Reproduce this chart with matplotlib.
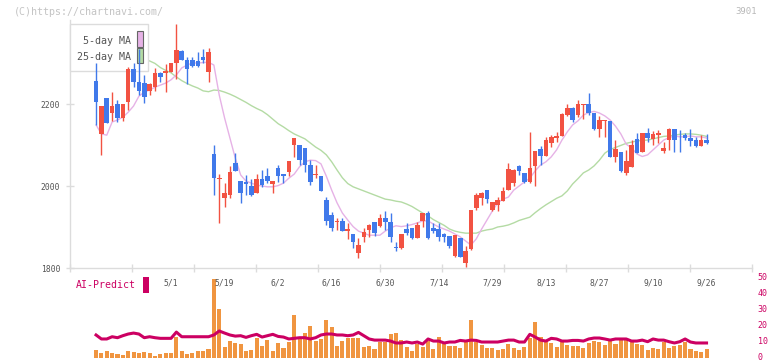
import numpy as np
import matplotlib
matplotlib.use("Agg")
import matplotlib.pyplot as plt
from matplotlib.patches import Rectangle
from matplotlib.transforms import blended_transform_factory, ScaledTranslation

nan = np.nan

# ---------------- data ----------------
opens = [2055, 2256, 2127, 2214, 2179, 2200, 2167, 2206, 2285, 2254,
         2252, 2232, 2241, 2276, 2275, 2279, 2299, 2330, 2307, 2307,
         2305, 2314, 2279, 2078, 2017, 1971, 1978, 2057, 2012, 2010,
         2000, 1984, 2016, 2024, 2006, 2043, 2029, 2035, 2100, 2100,
         2092, 2051, 2027, 2024, 1966, 1929, 1913, 1915, 1891, 1883,
         1836, 1875, 1893, 1912, 1902, 1921, 1912, 1851, 1848, 1894,
         1897, 1874, 1915, 1933, 1897, 1894, 1883, 1878, 1829, 1872,
         1813, 1846, 1947, 1971, 1990, 1941, 1954, 1963, 1990, 2008,
         2049, 2031, 2010, 2049, 2090, 2074, 2104, 2118, 2123, 2173,
         2190, 2173, 2198, 2200, 2177, 2139, 2158, 2159, 2071, 2084,
         2032, 2047, 2114, 2084, 2129, 2115, 2124, 2085, 2112, 2139,
         2113, 2124, 2116, 2112, 2098, 2112]
highs = [2055, 2299, 2195, 2214, 2230, 2210, 2200, 2291, 2299, 2333,
         2271, 2251, 2287, 2279, 2298, 2300, 2395, 2332, 2315, 2315,
         2328, 2333, 2336, 2100, 2029, 2008, 2049, 2081, 2012, 2027,
         2016, 2029, 2039, 2043, 2012, 2051, 2029, 2061, 2116, 2100,
         2092, 2063, 2051, 2024, 1974, 1937, 1921, 1921, 1910, 1883,
         1872, 1897, 1907, 1912, 1931, 1939, 1933, 1864, 1883, 1910,
         1897, 1913, 1933, 1939, 1910, 1909, 1886, 1878, 1880, 1872,
         1854, 1941, 1984, 1986, 1990, 1961, 1972, 1997, 2057, 2041,
         2051, 2031, 2132, 2085, 2098, 2120, 2124, 2132, 2179, 2200,
         2193, 2210, 2200, 2226, 2178, 2171, 2161, 2159, 2112, 2084,
         2088, 2112, 2129, 2129, 2142, 2135, 2137, 2108, 2141, 2139,
         2137, 2130, 2138, 2120, 2124, 2126]
lows = [2055, 2149, 2076, 2154, 2159, 2157, 2159, 2185, 2242, 2222,
        2203, 2222, 2232, 2254, 2230, 2279, 2262, 2307, 2250, 2290,
        2290, 2299, 2254, 1978, 1910, 1950, 1971, 2037, 1959, 1978,
        1976, 1984, 1998, 2007, 1984, 2010, 2008, 2024, 2071, 2051,
        2035, 2002, 2019, 1989, 1905, 1891, 1893, 1891, 1870, 1850,
        1824, 1864, 1876, 1878, 1901, 1893, 1864, 1842, 1847, 1880,
        1870, 1874, 1899, 1870, 1885, 1866, 1864, 1848, 1828, 1826,
        1802, 1845, 1941, 1954, 1958, 1939, 1940, 1963, 1990, 2000,
        2027, 2008, 2008, 2000, 2051, 2074, 2094, 2108, 2123, 2171,
        2157, 2169, 2163, 2173, 2137, 2120, 2120, 2071, 2059, 2035,
        2027, 2047, 2081, 2084, 2108, 2100, 2106, 2081, 2088, 2084,
        2084, 2112, 2098, 2096, 2098, 2102]
closes = [2055, 2206, 2195, 2154, 2195, 2167, 2200, 2285, 2254, 2232,
          2216, 2249, 2276, 2265, 2281, 2299, 2332, 2307, 2285, 2293,
          2293, 2307, 2326, 2020, 2020, 1982, 2035, 2037, 1982, 2004,
          1978, 2016, 2002, 2012, 2012, 2024, 2024, 2061, 2116, 2063,
          2051, 2010, 2029, 1989, 1915, 1898, 1915, 1891, 1894, 1864,
          1856, 1887, 1905, 1886, 1921, 1912, 1876, 1849, 1883, 1886,
          1872, 1905, 1933, 1872, 1891, 1875, 1876, 1854, 1880, 1826,
          1842, 1941, 1978, 1984, 1969, 1960, 1966, 1988, 2041, 2039,
          2037, 2010, 2043, 2085, 2074, 2112, 2120, 2122, 2176, 2190,
          2161, 2200, 2200, 2177, 2139, 2161, 2160, 2071, 2090, 2037,
          2061, 2100, 2081, 2129, 2118, 2126, 2130, 2092, 2139, 2112,
          2111, 2116, 2110, 2098, 2112, 2106]

ma5 = [nan,
       2149, 2127, 2124, 2156, 2161, 2168, 2180, 2195, 2219, 2229,
       2234, 2241, 2246, 2251, 2259, 2271, 2288, 2295, 2300, 2300,
       2301, 2302, 2295, 2222, 2166, 2117, 2068, 2027, 2012, 2007,
       2002, 2000, 1998, 1998, 2001, 2007, 2019, 2029, 2047, 2059,
       2063, 2062, 2054, 2024, 1990, 1959, 1934, 1917, 1901, 1890,
       1885, 1880, 1880, 1880, 1890, 1898, 1903, 1901, 1903, 1906,
       1910, 1915, 1915, 1907, 1900, 1895, 1890, 1883, 1876, 1866,
       1856, 1871, 1895, 1917, 1939, 1959, 1968, 1973, 1990, 2000,
       2010, 2019, 2037, 2051, 2059, 2071, 2088, 2112, 2132, 2149,
       2159, 2173, 2179, 2182, 2178, 2171, 2161, 2146, 2127, 2102,
       2093, 2078, 2072, 2076, 2088, 2100, 2112, 2118, 2122, 2120,
       2120, 2122, 2120, 2120, 2117]
ma25 = [nan] * 11 + [
       2305, 2299, 2289, 2282, 2276, 2266, 2257, 2250, 2244, 2239,
       2232, 2230, 2234, 2233, 2229, 2224, 2218, 2211, 2204, 2196,
       2189, 2183, 2174, 2163, 2152, 2144, 2135, 2127, 2121, 2115,
       2105, 2095, 2087, 2076, 2059, 2039, 2020, 2006, 1998, 1993,
       1988, 1983, 1978, 1973, 1968, 1966, 1963, 1961, 1956, 1950,
       1942, 1934, 1927, 1918, 1911, 1904, 1895, 1890, 1887, 1885,
       1885, 1885, 1890, 1893, 1895, 1900, 1902, 1905, 1910, 1916,
       1920, 1924, 1935, 1945, 1954, 1962, 1970, 1976, 1988, 2005,
       2018, 2032, 2039, 2049, 2063, 2080, 2089, 2094, 2099, 2104,
       2107, 2110, 2111, 2112, 2115, 2118, 2121, 2122, 2124, 2126,
       2127, 2127, 2126, 2124, 2121]

volume = [nan,
          4.8, 2.9, 4.2, 2.9, 2.3, 1.7, 4.2, 3.5, 2.9, 3.5,
          2.9, 1.25, 2.3, 2.9, 2.9, 13.1, 4.2, 2.3, 2.9, 4.2,
          4.2, 5.4, 49.2, 30.6, 6.7, 10.4, 9.2, 8.5, 4.2, 4.8,
          12.3, 7.3, 11.0, 4.2, 9.2, 6.0, 9.8, 26.7, 12.9, 15.4,
          19.8, 10.4, 11.7, 23.5, 19.2, 7.3, 10.4, 12.3, 12.3, 12.3,
          6.7, 7.3, 5.4, 9.8, 9.8, 14.8, 15.4, 11.0, 6.7, 4.2,
          8.5, 6.7, 10.4, 5.4, 12.9, 8.5, 7.3, 7.3, 6.0, 9.8,
          23.5, 9.8, 7.9, 6.0, 6.0, 4.8, 5.4, 8.5, 6.0, 4.8,
          6.7, 12.3, 22.3, 12.9, 10.4, 9.2, 6.7, 9.8, 7.9, 7.3,
          7.3, 6.0, 9.2, 10.4, 9.8, 7.9, 11.0, 8.5, 11.0, 12.3,
          9.8, 8.5, 7.9, 4.8, 6.0, 5.4, 9.8, 6.0, 7.3, 7.9,
          9.8, 5.4, 4.2, 3.5, 5.4]
ai_predict = [nan,
              14.2, 11.7, 11.7, 13.1, 12.5, 13.75, 14.8, 15.4, 14.8, 12.5,
              13.1, 12.5, 12.1, 12.1, 12.1, 16.0, 13.1, 13.1, 13.1, 13.1,
              13.1, 13.1, 14.2, 16.7, 15.4, 14.2, 13.5, 13.75, 12.7, 13.75,
              14.6, 12.9, 13.75, 14.6, 13.3, 12.9, 11.7, 12.1, 12.5, 12.5,
              11.7, 12.5, 14.2, 14.8, 14.8, 14.2, 14.2, 13.75, 14.2, 15.8,
              13.75, 11.7, 11.0, 11.0, 11.0, 10.4, 9.2, 9.2, 9.8, 9.2,
              9.8, 8.5, 11.7, 10.4, 10.4, 9.2, 9.8, 9.8, 10.8, 10.4,
              11.0, 10.8, 9.8, 9.8, 9.8, 9.8, 10.4, 11.0, 11.0, 9.8,
              9.8, 14.6, 12.9, 11.0, 10.4, 12.1, 11.7, 10.4, 10.4, 10.8,
              10.8, 10.4, 11.7, 12.3, 12.3, 11.7, 11.0, 11.7, 11.7, 11.7,
              10.4, 10.4, 11.0, 10.0, 11.7, 11.0, 11.0, 10.0, 9.2, 10.0,
              11.7, 9.8, 9.2, 9.2, 9.2]

date_labels = ['5/1', '5/19', '6/2', '6/16', '6/30', '7/14', '7/29',
               '8/13', '8/27', '9/10', '9/26']
date_label_idx = [15, 25, 35, 45, 55, 65, 75, 85, 95, 105, 115]
price_ticks = [1800, 2000, 2200]
ai_ticks = [0, 10, 20, 30, 40, 50]

# ---------------- style ----------------
RED = '#f25242'
BLUE = '#4079ea'
PINK = '#e6b2e6'
GREEN = '#b4dba4'
ORANGE = '#f09540'
CRIMSON = '#cc0062'
GRAY_TXT = '#555555'
AXIS = '#dcdcdc'
MONO = ['DejaVu Sans Mono']

W, H = 772, 361
fig = plt.figure(figsize=(W / 100, H / 100), dpi=100)
fig.patch.set_facecolor('white')


def fx(px):
    return px / W


def fy(py):
    return 1 - py / H


n = len(closes)
idx = np.arange(n)
o = np.array(opens, float)
hi = np.array(highs, float)
lo = np.array(lows, float)
c = np.array(closes, float)

XMIN, XMAX = -3.866, 123.49

# ---------------- price axes ----------------
ax = fig.add_axes([fx(70), fy(268), fx(752) - fx(70), fy(20) - fy(268)])
ax.set_xlim(XMIN, XMAX)
ax.set_ylim(1800, 2200 + 84 * 200 / 82)
ax.set_facecolor('none')

up = c >= o
colors = np.where(up, RED, BLUE)
body_bottom = np.minimum(o, c)
body_h = np.maximum(np.abs(c - o), 2.0)
ax.vlines(idx, lo, hi, colors=colors, lw=1.0, zorder=4)
ax.bar(idx, body_h, bottom=body_bottom, width=0.86, color=colors,
       linewidth=0, zorder=5)

ax.plot(idx, ma25, color=GREEN, lw=1.0, zorder=2)
ax.plot(idx, ma5, color=PINK, lw=1.0, zorder=2)

for s in ['top', 'right']:
    ax.spines[s].set_visible(False)
for s in ['left', 'bottom']:
    ax.spines[s].set_color(AXIS)
    ax.spines[s].set_linewidth(1.0)
ax.set_yticks(price_ticks)
ax.set_yticklabels([str(t) for t in price_ticks], family=MONO,
                   fontsize=5.8, color=GRAY_TXT)
ax.set_xticks(np.linspace(XMIN, XMAX, 12))
ax.set_xticklabels([])
ax.tick_params(axis='both', direction='inout', length=6, width=1.0,
               color=AXIS)
ax.tick_params(axis='y', pad=4)

# legend (drawn inside the axes so candles remain on top)
tf = fig.transFigure
ax.add_patch(Rectangle((fx(70), fy(71)), fx(148) - fx(70), fy(24) - fy(71),
                       transform=tf, facecolor='white', edgecolor=AXIS,
                       lw=1.0, zorder=3, clip_on=False))
ax.text(fx(131), fy(40.5), '5-day MA', transform=tf, ha='right',
        va='center', family=MONO, fontsize=7.2, color=GRAY_TXT,
        zorder=3.5, clip_on=False)
ax.text(fx(131), fy(56.5), '25-day MA', transform=tf, ha='right',
        va='center', family=MONO, fontsize=7.2, color=GRAY_TXT,
        zorder=3.5, clip_on=False)
ax.add_patch(Rectangle((fx(136.5), fy(46.5)), fx(6.5), fy(0) - fy(15),
                       transform=tf, facecolor=PINK, edgecolor='#666666',
                       lw=0.8, zorder=3.5, clip_on=False))
ax.add_patch(Rectangle((fx(136.5), fy(63)), fx(6.5), fy(0) - fy(15),
                       transform=tf, facecolor=GREEN, edgecolor='#666666',
                       lw=0.8, zorder=3.5, clip_on=False))

# ---------------- AI-predict / volume axes ----------------
ax2 = fig.add_axes([fx(70), fy(357.7), fx(752) - fx(70),
                    fy(277.7) - fy(357.7)])
ax2.set_xlim(XMIN, XMAX)
ax2.set_ylim(0, 50)
ax2.set_facecolor('none')
ax2.bar(idx, volume, width=0.76, color=ORANGE, linewidth=0, zorder=1)
ax2.plot(idx, ai_predict, color=CRIMSON, lw=2.2, zorder=2,
         solid_joinstyle='round')
for s in ax2.spines.values():
    s.set_visible(False)
ax2.set_xticks([])
ax2.yaxis.tick_right()
ax2.set_yticks(ai_ticks)
ax2.set_yticklabels([str(t) for t in ai_ticks], family=MONO, fontsize=6,
                    color=CRIMSON)
ax2.tick_params(axis='y', length=0, pad=4)
shift = ScaledTranslation(0, 1.5 / 100, fig.dpi_scale_trans)
for lab in ax2.get_yticklabels():
    lab.set_transform(lab.get_transform() + shift)

bt = blended_transform_factory(ax2.transData, ax2.transAxes)
for i, lab in zip(date_label_idx, date_labels):
    ax2.text(i, 0.935, lab, transform=bt, ha='center', va='center',
             family=MONO, fontsize=5.8, color=GRAY_TXT, clip_on=False)

fig.text(fx(76), fy(285), 'AI-Predict', ha='left', va='center',
         family=MONO, fontsize=7.1, color=CRIMSON)
fig.patches.append(Rectangle((fx(143), fy(293)), fx(6), fy(0) - fy(16),
                             transform=tf, facecolor=CRIMSON,
                             edgecolor='none', figure=fig))

# ---------------- header texts ----------------
fig.text(fx(14), fy(12), '(C)https://chartnavi.com/', ha='left',
         va='center', family=MONO, fontsize=7.2, color='#c4c4c4')
fig.text(fx(757), fy(12), '3901', ha='right', va='center', family=MONO,
         fontsize=6.5, color='#b8b8b8')

fig.savefig('out.png', dpi=100, facecolor='white')
